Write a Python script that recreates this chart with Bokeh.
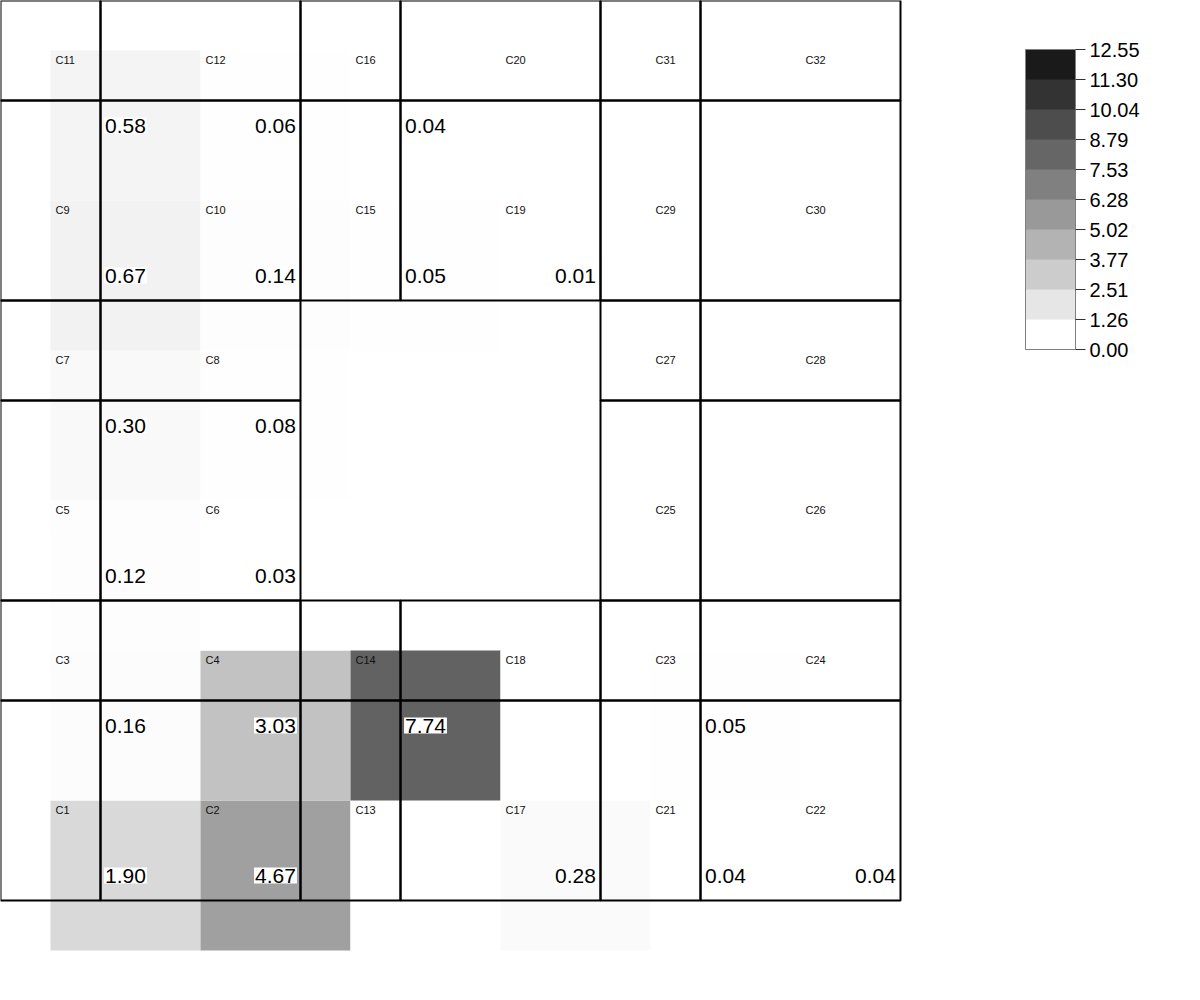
from bokeh.plotting import figure
from bokeh.models import (ColumnDataSource, LinearColorMapper, ColorBar, FixedTicker,
                          Range1d, CustomJSTickFormatter)
from bokeh.core.properties import value
from bokeh.embed import file_html
from bokeh.resources import INLINE

# ---------------- data ----------------
cell_names = ["C1", "C2", "C3", "C4", "C5", "C6", "C7", "C8", "C9", "C10",
              "C11", "C12", "C13", "C14", "C15", "C16", "C17", "C18", "C19", "C20",
              "C21", "C22", "C23", "C24", "C25", "C26", "C27", "C28", "C29", "C30",
              "C31", "C32"]
cell_values = [1.90, 4.67, 0.16, 3.03, 0.12, 0.03, 0.30, 0.08, 0.67, 0.14,
               0.58, 0.06, None, 7.74, 0.05, 0.04, 0.28, None, 0.01, None,
               0.04, 0.04, 0.05, None, None, None, None, None, None, None,
               None, None]
# grid column / row (row 0 = bottom) of each cell
cell_col = [0, 1, 0, 1, 0, 1, 0, 1, 0, 1, 0, 1,
            2, 2, 2, 2, 3, 3, 3, 3,
            4, 5, 4, 5, 4, 5, 4, 5, 4, 5, 4, 5]
cell_row = [0, 0, 1, 1, 2, 2, 3, 3, 4, 4, 5, 5,
            0, 1, 4, 5, 0, 1, 4, 5,
            0, 0, 1, 1, 2, 2, 3, 3, 4, 4, 5, 5]
# outline panel edges (plot units)
panel_x_edges = [0, 2, 6, 8, 12, 14, 18]
panel_y_edges = [2, 6, 8, 12, 14, 18, 20]

scale_max = 12.55
colorbar_ticks = [0.0, 1.255, 2.51, 3.765, 5.02, 6.275, 7.53, 8.785, 10.04, 11.295, 12.55]
colorbar_labels = ["0.00", "1.26", "2.51", "3.77", "5.02", "6.28", "7.53", "8.79",
                   "10.04", "11.30", "12.55"]
colorbar_grays = [255, 230, 204, 179, 153, 128, 102, 77, 51, 26]

FONT = "Liberation Sans"

# ---------------- derived geometry ----------------
CELL = 3
left = [1 + CELL * c for c in cell_col]
bottom = [1 + CELL * r for r in cell_row]
right = [l + CELL for l in left]
top = [b + CELL for b in bottom]
fillvals = [v if v is not None else float("nan") for v in cell_values]

src = ColumnDataSource(dict(name=cell_names, val=fillvals, left=left, right=right,
                            bottom=bottom, top=top))

pl = [panel_x_edges[c] for c in cell_col]
pr = [panel_x_edges[c + 1] for c in cell_col]
pb = [panel_y_edges[r] for r in cell_row]
pt = [panel_y_edges[r + 1] for r in cell_row]
panel_src = ColumnDataSource(dict(left=pl, right=pr, bottom=pb, top=pt))

lab_idx = [i for i, v in enumerate(cell_values) if v is not None]
lab_src = ColumnDataSource(dict(
    x=[(left[i] + right[i]) / 2 for i in lab_idx],
    y=[(bottom[i] + top[i]) / 2 for i in lab_idx],
    text=["%.2f" % cell_values[i] for i in lab_idx]))

gray256 = ["#%02x%02x%02x" % (g, g, g) for g in range(255, -1, -1)]
mapper = LinearColorMapper(palette=gray256, low=0, high=scale_max, nan_color="white")

p = figure(width=1200, height=1000, x_range=Range1d(0, 24), y_range=Range1d(0, 20),
           output_backend="svg", toolbar_location=None, min_border=0,
           x_axis_location=None, y_axis_location=None)
p.xgrid.visible = False
p.ygrid.visible = False
p.outline_line_color = None
p.background_fill_color = "white"
p.border_fill_color = "white"

p.quad(left="left", right="right", bottom="bottom", top="top", source=src,
       fill_color={"field": "val", "transform": mapper}, line_color=None)

p.quad(left="left", right="right", bottom="bottom", top="top", source=panel_src,
       fill_color=None, line_color="black", line_width=2)

p.text(x="left", y="top", text="name", source=src, x_offset=5, y_offset=3,
       text_align="left", text_baseline="top", text_font=value(FONT),
       text_font_size="11px", text_color="#111111")

p.text(x="x", y="y", text="text", source=lab_src, text_align="center",
       text_baseline="middle", text_font=value(FONT), text_font_size="21px",
       text_color="black", background_fill_color="white", padding=1)

cb_mapper = LinearColorMapper(palette=["#%02x%02x%02x" % (g, g, g) for g in colorbar_grays],
                              low=0, high=scale_max)
fmt = CustomJSTickFormatter(args=dict(tvals=colorbar_ticks, tlabels=colorbar_labels), code="""
    let best = -1, bd = 1e9;
    for (let i = 0; i < tvals.length; i++) {
        const d = Math.abs(tvals[i] - tick);
        if (d < bd) { bd = d; best = i; }
    }
    return tlabels[best];
""")
cb = ColorBar(color_mapper=cb_mapper, ticker=FixedTicker(ticks=colorbar_ticks),
              formatter=fmt, width=50, height=300, location=(1025, 651), padding=0,
              bar_line_color="#808080", major_tick_out=10, major_tick_in=0,
              major_tick_line_color="#333333", major_label_text_font=FONT,
              major_label_text_font_size="20px", major_label_text_color="black",
              label_standoff=4, background_fill_color=None, border_line_color=None)
p.add_layout(cb)

open("out.html", "w").write(file_html(p, INLINE))
